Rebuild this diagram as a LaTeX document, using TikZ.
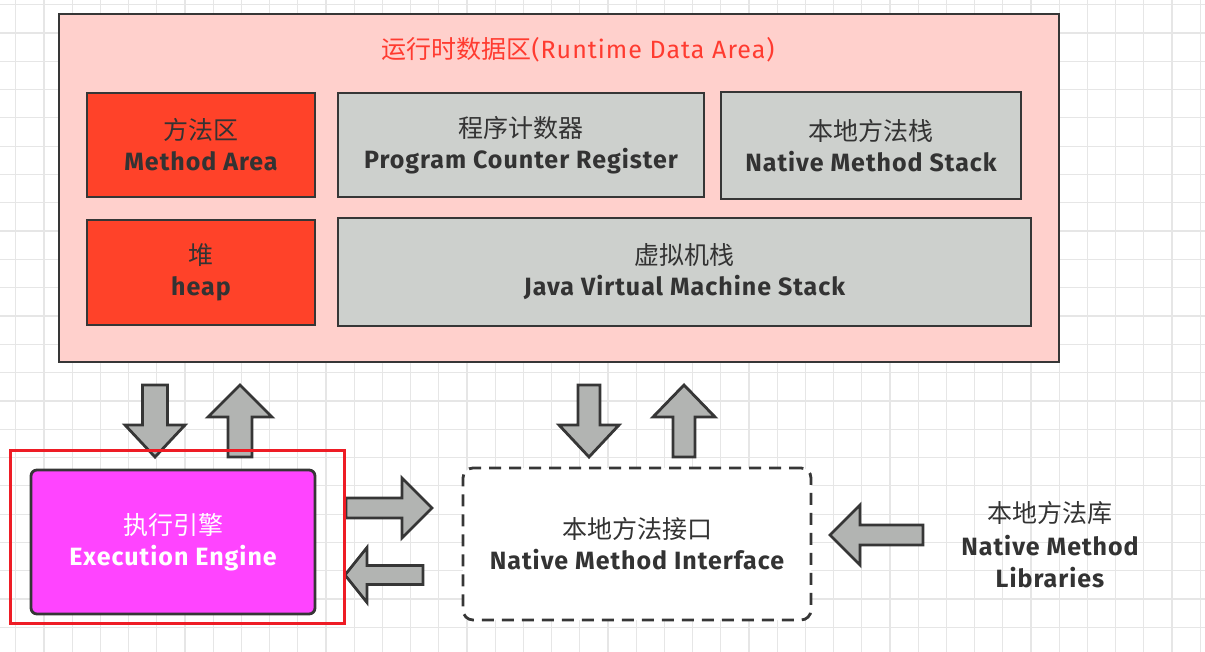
\documentclass[tikz,border=0pt]{standalone}
\usepackage{fontspec}
\setmainfont{Fira Sans}[LetterSpace=4]
\newfontfamily\cjk{Noto Sans CJK SC}
\newcommand\zh[1]{{\cjk\mdseries\fontsize{25}{30}\selectfont #1}}
\definecolor{pinkbg}{HTML}{FFD0CC}
\definecolor{methodred}{HTML}{FF4229}
\definecolor{boxgray}{HTML}{CDD0CD}
\definecolor{darkline}{HTML}{363636}
\definecolor{magentabox}{HTML}{FF44FF}
\definecolor{titlered}{HTML}{FF3B30}
\definecolor{arrowgray}{HTML}{B2B4B2}
\definecolor{gridgray}{HTML}{E6E6E6}
\definecolor{hlred}{HTML}{EE1C25}
\definecolor{textdark}{HTML}{333333}
\tikzset{
  membox/.style={draw=darkline, line width=2.8pt, rectangle, align=center, text=textdark,
    font=\fontsize{25}{31}\selectfont\bfseries, inner sep=0pt},
  blockarrow/.style={draw=darkline, fill=arrowgray, line width=2.8pt, line join=miter},
}
\newcommand\barrow[7]{\draw[blockarrow,shift={(#1,#2)},rotate=#3]
  ({-#4/2},{-#5/2}) -- ({#4/2-#7},{-#5/2}) -- ({#4/2-#7},{-#6/2}) -- ({#4/2},0)
  -- ({#4/2-#7},{#6/2}) -- ({#4/2-#7},{#5/2}) -- ({-#4/2},{#5/2}) -- cycle;}
\begin{document}
\begin{tikzpicture}[x=1pt,y=-1pt]
\useasboundingbox (0,0) rectangle (1205,652);
\fill[white] (0,0) rectangle (1205,652);
% grid
\foreach \i in {0,...,42} {\draw[gridgray, line width=1.2pt] ({15.7+28.2*\i},0) -- ({15.7+28.2*\i},652);}
\foreach \j in {0,...,23} {\draw[gridgray, line width=1.2pt] (0,{4.7+28.3*\j}) -- (1205,{4.7+28.3*\j});}
% runtime data area
\node[membox, fill=pinkbg, minimum width=1000pt, minimum height=348pt] (runtime) at (559,188) {};
\node[text=titlered, font=\fontsize{25}{30}\selectfont] (title) at (578,50) {{\cjk\fontsize{25}{30}\selectfont 运行时数据区}(Runtime Data Area)};
\node[membox, fill=methodred, minimum width=228pt, minimum height=104pt] (method) at (201,145) {\zh{方法区}\\Method Area};
\node[membox, fill=boxgray, minimum width=366pt, minimum height=104pt] (pc) at (521,145) {\zh{程序计数器}\\Program Counter Register};
\node[membox, fill=boxgray, minimum width=300pt, minimum height=107pt] (nms) at (871,145.5) {\zh{本地方法栈}\\Native Method Stack};
\node[membox, fill=methodred, minimum width=228pt, minimum height=105pt] (heap) at (201,272.5) {\zh{堆}\\heap};
\node[membox, fill=boxgray, minimum width=693pt, minimum height=108pt] (jvms) at (684.5,272) {\zh{虚拟机栈}\\Java Virtual Machine Stack};
% execution engine
\node[membox, fill=magentabox, text=white, rounded corners=6pt, minimum width=284pt, minimum height=144pt] (ee) at (173,542) {\zh{执行引擎}\\Execution Engine};
% native method interface
\node[membox, fill=white, dashed, dash pattern=on 12pt off 8pt, rounded corners=10pt, minimum width=348pt, minimum height=152pt] (nmi) at (637,544) {\zh{本地方法接口}\\Native Method Interface};
% libraries
\node[align=center, text=textdark, font=\fontsize{25}{32.5}\selectfont\bfseries] (lib) at (1050,545) {\zh{本地方法库}\\Native Method\\Libraries};
% block arrows
\barrow{155}{421}{-90}{72}{25}{60}{32}
\barrow{240}{421}{90}{72}{24}{64}{32}
\barrow{389}{508}{0}{86}{20}{60}{30}
\barrow{384}{575}{180}{78}{19}{55}{22}
\barrow{589}{421}{-90}{72}{22}{60}{32}
\barrow{684}{421}{90}{72}{22}{62}{32}
\barrow{876.5}{535}{180}{93}{20}{60}{30}
% highlight
\node[draw=hlred, line width=3pt, rectangle, minimum width=334pt, minimum height=173pt, inner sep=0pt] (hl) at (177,536.5) {};
\end{tikzpicture}
\end{document}
